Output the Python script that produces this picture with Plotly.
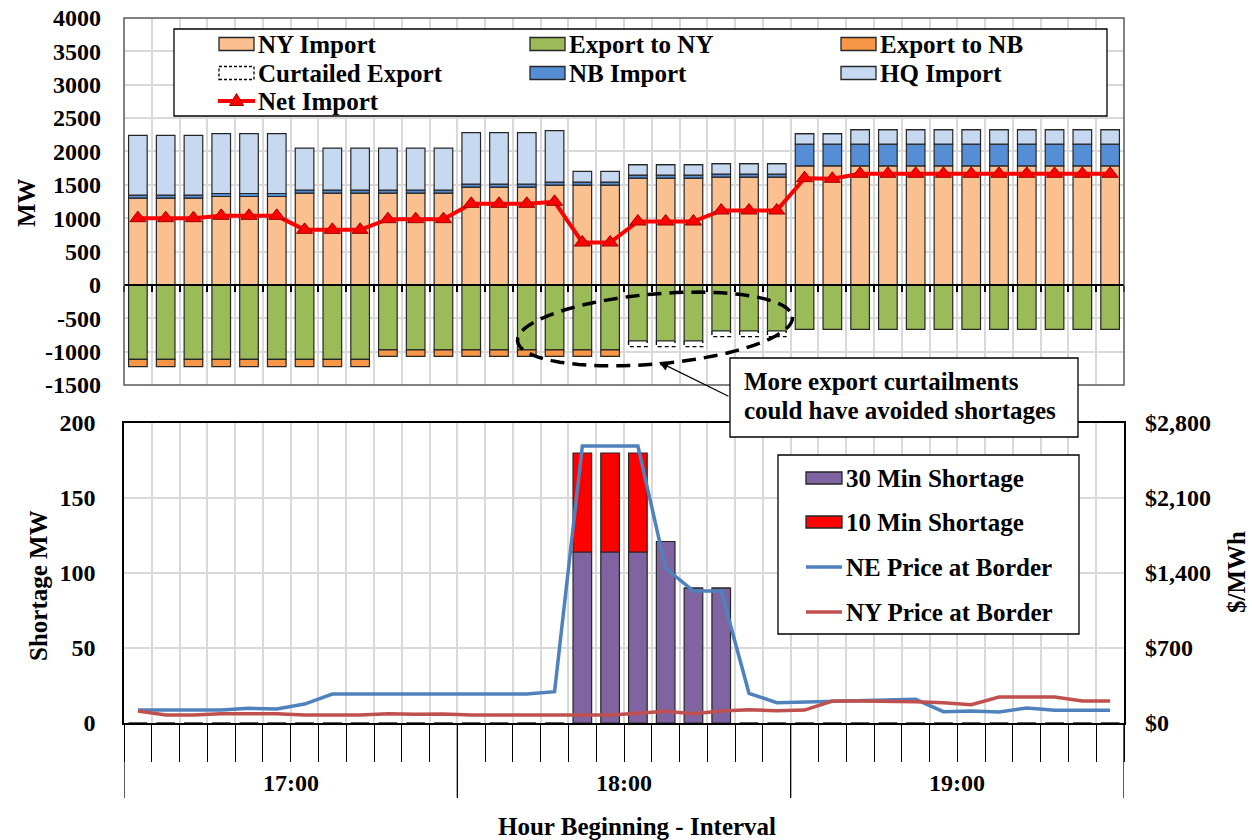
import math
import plotly.graph_objects as go

W, H = 1252, 840
FONT = "Liberation Serif"

# ---------------- data ----------------
hour_labels = ["17:00", "18:00", "19:00"]
intervals = list(range(36))          # 5-minute intervals, 12 per hour

ny_import = [1300, 1300, 1300, 1325, 1325, 1325, 1375, 1375, 1375, 1375, 1375, 1375,
             1465, 1465, 1465, 1495, 1495, 1495, 1600, 1600, 1600, 1615, 1615, 1615,
             1785, 1785, 1785, 1785, 1785, 1785, 1785, 1785, 1785, 1785, 1785, 1785]
nb_import = [45, 45, 45, 45, 45, 45, 45, 45, 45, 45, 45, 45,
             45, 45, 45, 45, 45, 45, 45, 45, 45, 45, 45, 45,
             325, 325, 325, 325, 325, 325, 325, 325, 325, 325, 325, 325]
hq_import = [895, 895, 895, 898, 898, 898, 630, 630, 630, 630, 630, 630,
             773, 773, 773, 773, 160, 160, 158, 158, 158, 158, 158, 158,
             158, 158, 218, 218, 218, 218, 218, 218, 218, 218, 218, 218]
export_ny = [-1115, -1115, -1115, -1115, -1115, -1115, -1115, -1115, -1115, -975, -975, -975,
             -975, -975, -975, -975, -975, -975, -840, -840, -840, -690, -690, -690,
             -665, -665, -665, -665, -665, -665, -665, -665, -665, -665, -665, -665]
export_nb = [-110, -110, -110, -110, -110, -110, -110, -110, -110, -95, -95, -95,
             -95, -95, -95, -95, -95, -95, 0, 0, 0, 0, 0, 0,
             0, 0, 0, 0, 0, 0, 0, 0, 0, 0, 0, 0]
curtailed = [0, 0, 0, 0, 0, 0, 0, 0, 0, 0, 0, 0,
             0, 0, 0, 0, 0, 0, -85, -85, -85, -85, -85, -85,
             0, 0, 0, 0, 0, 0, 0, 0, 0, 0, 0, 0]
net_import = [1000, 1000, 1000, 1035, 1035, 1035, 825, 825, 825, 985, 985, 985,
              1215, 1215, 1215, 1245, 635, 635, 950, 950, 950, 1115, 1115, 1115,
              1600, 1590, 1665, 1665, 1665, 1665, 1665, 1665, 1665, 1665, 1665, 1665]

short_30 = [0, 0, 0, 0, 0, 0, 0, 0, 0, 0, 0, 0,
            0, 0, 0, 0, 114, 114, 114, 121, 90, 90, 0, 0,
            0, 0, 0, 0, 0, 0, 0, 0, 0, 0, 0, 0]
short_10 = [0, 0, 0, 0, 0, 0, 0, 0, 0, 0, 0, 0,
            0, 0, 0, 0, 66, 66, 66, 0, 0, 0, 0, 0,
            0, 0, 0, 0, 0, 0, 0, 0, 0, 0, 0, 0]
ne_price = [121, 121, 121, 121, 137, 130, 177, 270, 270, 270, 270, 270,
            270, 270, 270, 292, 2585, 2585, 2585, 1444, 1232, 1232, 277, 190,
            196, 199, 202, 210, 221, 106, 112, 102, 140, 118, 118, 118]
ny_price = [112, 75, 75, 87, 87, 87, 75, 75, 75, 87, 81, 84,
            75, 75, 75, 75, 75, 75, 90, 109, 87, 112, 124, 115,
            121, 205, 205, 205, 199, 190, 171, 243, 243, 243, 205, 205]

top_ticks = [-1500, -1000, -500, 0, 500, 1000, 1500, 2000, 2500, 3000, 3500, 4000]
top_ticktext = ["-1500", "-1000", "-500", "0", "500", "1000", "1500", "2000",
                "2500", "3000", "3500", "4000"]
short_ticks = [0, 50, 100, 150, 200]
short_ticktext = ["0", "50", "100", "150", "200"]
price_ticks = [0, 700, 1400, 2100, 2800]
price_ticktext = ["$0", "$700", "$1,400", "$2,100", "$2,800"]

# ---------------- styling ----------------
C_NY = "#FAC090"
C_EXNY = "#9BBB59"
C_EXNB = "#F79646"
C_NB = "#558ED5"
C_HQ = "#C6D9F1"
C_NET = "#FF0000"
C_S30 = "#8064A2"
C_S10 = "#FF0000"
C_NE = "#4F81BD"
C_NYP = "#C0504D"
EDGE = "#262626"
GRID = "#D9D9D9"
BARGAP = 0.33


def px_x(x):
    return x / W


def px_y(y):
    return 1 - y / H


xdom = [px_x(124), px_x(1124)]
top_dom = [px_y(385), px_y(18)]
bot_dom = [px_y(723), px_y(423)]
xr = [-0.5, 35.5]
boundaries = [i - 0.5 for i in range(37)]
top_range = [-1500, 4000]
zero_pos = top_dom[0] + (0 - top_range[0]) / (top_range[1] - top_range[0]) * (top_dom[1] - top_dom[0])

bold = dict(family=FONT, size=24, color="black", weight="bold")
bold25 = dict(family=FONT, size=25, color="black", weight="bold")

fig = go.Figure()


def bar(name, y, color, xa="x", ya="y"):
    return go.Bar(name=name, x=intervals, y=y, xaxis=xa, yaxis=ya,
                  marker=dict(color=color, line=dict(color=EDGE, width=1.2)),
                  showlegend=False)


fig.add_trace(bar("NY Import", ny_import, C_NY))
fig.add_trace(bar("NB Import", nb_import, C_NB))
fig.add_trace(bar("HQ Import", hq_import, C_HQ))
fig.add_trace(bar("Export to NY", export_ny, C_EXNY))
fig.add_trace(bar("Export to NB", export_nb, C_EXNB))
fig.add_trace(go.Bar(name="Curtailed Export", x=intervals, y=curtailed,
                     marker=dict(color="rgba(255,255,255,0)", line=dict(width=0)),
                     showlegend=False))

# dashed outline of the curtailed portion, stacked under the exports
half = (1 - BARGAP) / 2
cx, cy = [], []
for i in intervals:
    if curtailed[i] != 0:
        base = export_ny[i] + export_nb[i]
        low = base + curtailed[i]
        cx += [i - half, i - half, i + half, i + half, None]
        cy += [base, low, low, base, None]
fig.add_trace(go.Scatter(x=cx, y=cy, mode="lines", showlegend=False, hoverinfo="skip",
                         line=dict(color="black", width=1.3, dash="4px,3px")))

fig.add_trace(go.Scatter(name="Net Import", x=intervals, y=net_import, mode="lines+markers",
                         line=dict(color=C_NET, width=4),
                         marker=dict(symbol="triangle-up", size=14, color=C_NET,
                                     line=dict(color="#A00000", width=1)),
                         showlegend=False))

# lower panel
fig.add_trace(bar("30 Min Shortage", short_30, C_S30, "x2", "y2"))
fig.add_trace(bar("10 Min Shortage", short_10, C_S10, "x2", "y2"))
fig.add_trace(go.Scatter(name="NE Price at Border", x=intervals, y=ne_price, mode="lines",
                         xaxis="x2", yaxis="y3", line=dict(color=C_NE, width=3.5),
                         showlegend=False))
fig.add_trace(go.Scatter(name="NY Price at Border", x=intervals, y=ny_price, mode="lines",
                         xaxis="x2", yaxis="y3", line=dict(color=C_NYP, width=3.5),
                         showlegend=False))

shapes = []
annotations = []


def note(text, x, y, font=bold25, xanchor="center", yanchor="middle", angle=0):
    return dict(text=text, xref="paper", yref="paper", x=px_x(x), y=px_y(y),
                xanchor=xanchor, yanchor=yanchor, textangle=angle, showarrow=False,
                font=font, borderpad=0)


# panel borders / hour dividers
shapes.append(dict(type="rect", xref="x domain", yref="y domain", x0=0, x1=1, y0=0, y1=1,
                   line=dict(color="#595959", width=1.5), layer="above"))
for b in [-0.5, 11.5, 23.5, 35.5]:
    shapes.append(dict(type="line", xref="x2", yref="paper", x0=b, x1=b,
                       y0=px_y(723), y1=px_y(798), line=dict(color="black", width=1.3)))
for k, lab in enumerate(hour_labels):
    annotations.append(dict(text=lab, xref="x2", yref="paper", x=k * 12 + 5.5, y=px_y(783),
                            showarrow=False, font=bold, xanchor="center", yanchor="middle"))

# axis titles
annotations.append(note("MW", 26, 203, angle=-90))
annotations.append(note("Shortage MW", 38, 586, angle=-90))
annotations.append(note("$/MWh", 1236, 572, angle=-90))
annotations.append(note("Hour Beginning - Interval", 637, 826))


def rect_px(x0, y0, x1, y1, fill, line_color="#262626", width=1.3, dash="solid"):
    return dict(type="rect", xref="paper", yref="paper", x0=px_x(x0), x1=px_x(x1),
                y0=px_y(y1), y1=px_y(y0), fillcolor=fill,
                line=dict(color=line_color, width=width, dash=dash), layer="above")


def line_px(x0, y0, x1, y1, color, width):
    return dict(type="line", xref="paper", yref="paper", x0=px_x(x0), x1=px_x(x1),
                y0=px_y(y0), y1=px_y(y1), line=dict(color=color, width=width), layer="above")


# upper legend
shapes.append(rect_px(174, 29, 1107, 116, "white", "black", 1.3))
top_items = [("NY Import", "rect", C_NY), ("Export to NY", "rect", C_EXNY),
             ("Export to NB", "rect", C_EXNB), ("Curtailed Export", "dash", None),
             ("NB Import", "rect", C_NB), ("HQ Import", "rect", C_HQ),
             ("Net Import", "net", C_NET)]
cols = [219, 530, 841]
rows = [44, 73, 101]
for k, (name, kind, col) in enumerate(top_items):
    x0 = cols[k % 3]
    yc = rows[k // 3]
    if kind == "rect":
        shapes.append(rect_px(x0, yc - 6.5, x0 + 35, yc + 6.5, col))
    elif kind == "dash":
        shapes.append(rect_px(x0, yc - 6.5, x0 + 35, yc + 6.5, "white", "black", 1.3, "3px,2px"))
    else:
        shapes.append(line_px(x0 - 1, yc, x0 + 36, yc, col, 4))
        tx, ty, r = x0 + 17.5, yc - 1, 7
        path = "M{:.5f},{:.5f} L{:.5f},{:.5f} L{:.5f},{:.5f} Z".format(
            px_x(tx - r), px_y(ty + 5.5), px_x(tx + r), px_y(ty + 5.5), px_x(tx), px_y(ty - 6.5))
        shapes.append(dict(type="path", xref="paper", yref="paper", path=path,
                           fillcolor=C_NET, line=dict(color="#A00000", width=1), layer="above"))
    annotations.append(note(name, x0 + 38, yc, xanchor="left"))

# lower legend
shapes.append(rect_px(778, 455, 1079, 634, "white", "black", 1.3))
bot_items = [("30 Min Shortage", "rect", C_S30), ("10 Min Shortage", "rect", C_S10),
             ("NE Price at Border", "line", C_NE), ("NY Price at Border", "line", C_NYP)]
brow = [478, 522, 567, 612]
for k, (name, kind, col) in enumerate(bot_items):
    yc = brow[k]
    if kind == "rect":
        shapes.append(rect_px(806, yc - 6, 842, yc + 6, col, "#262626", 1.3))
    else:
        shapes.append(line_px(806, yc, 842, yc, col, 3.5))
    annotations.append(note(name, 845, yc, xanchor="left"))

# callout: dashed ellipse, arrow and note
ecx, ecy, ea, eb, th = 655, 329, 138, 35, math.radians(-5)
pts = []
for s in range(0, 73):
    t = 2 * math.pi * s / 72
    ex = ecx + ea * math.cos(t) * math.cos(th) - eb * math.sin(t) * math.sin(th)
    ey = ecy + ea * math.cos(t) * math.sin(th) + eb * math.sin(t) * math.cos(th)
    pts.append((px_x(ex), px_y(ey)))
epath = "M" + " L".join("{:.5f},{:.5f}".format(a, b) for a, b in pts) + " Z"
shapes.append(dict(type="path", xref="paper", yref="paper", path=epath,
                   line=dict(color="black", width=3.5, dash="14px,8px"), layer="above"))

shapes.append(rect_px(730, 358, 1078, 437, "white", "black", 1.3))
annotations.append(dict(text="", xref="paper", yref="paper", x=px_x(659), y=px_y(362),
                        ax=71, ay=35, showarrow=True, arrowhead=2, arrowsize=1.6,
                        arrowwidth=1.2, arrowcolor="black"))
annotations.append(note("More export curtailments", 743, 382, xanchor="left"))
annotations.append(note("could have avoided shortages", 743, 410, xanchor="left"))

axis_common = dict(showgrid=True, gridcolor=GRID, gridwidth=1.5, zeroline=False, automargin=False)

fig.update_layout(
    width=W, height=H, autosize=False,
    margin=dict(l=0, r=0, t=0, b=0, pad=0, autoexpand=False),
    paper_bgcolor="white", plot_bgcolor="white",
    font=dict(family=FONT, size=24, color="black", weight="bold"),
    barmode="relative", bargap=BARGAP, showlegend=False,
    xaxis=dict(domain=xdom, range=xr, anchor="free", position=zero_pos,
               tickmode="array", tickvals=boundaries, ticks="outside", ticklen=6,
               tickwidth=1.5, tickcolor="black", showticklabels=False,
               showline=True, linecolor="black", linewidth=1.5, **axis_common),
    yaxis=dict(domain=top_dom, range=top_range, anchor="x",
               tickmode="array", tickvals=top_ticks, ticktext=top_ticktext,
               tickfont=bold, ticks="", ticklabelstandoff=22, **axis_common),
    xaxis2=dict(domain=xdom, range=xr, anchor="y2",
                tickmode="array", tickvals=boundaries, ticks="outside", ticklen=37,
                tickwidth=1.3, tickcolor="black", showticklabels=False,
                showline=True, linecolor="black", linewidth=1.5, mirror=True, **axis_common),
    yaxis2=dict(domain=bot_dom, range=[0, 200], anchor="x2",
                tickmode="array", tickvals=short_ticks, ticktext=short_ticktext,
                tickfont=bold, ticks="", ticklabelstandoff=22,
                showline=True, linecolor="black", linewidth=1.5, mirror=True, **axis_common),
    yaxis3=dict(range=[0, 2800], overlaying="y2", side="right", anchor="x2",
                tickmode="array", tickvals=price_ticks, ticktext=price_ticktext,
                tickfont=bold, ticks="", ticklabelstandoff=20, showgrid=False, zeroline=False,
                showline=False, automargin=False),
    shapes=shapes, annotations=annotations,
)

fig.write_html("out.html")
